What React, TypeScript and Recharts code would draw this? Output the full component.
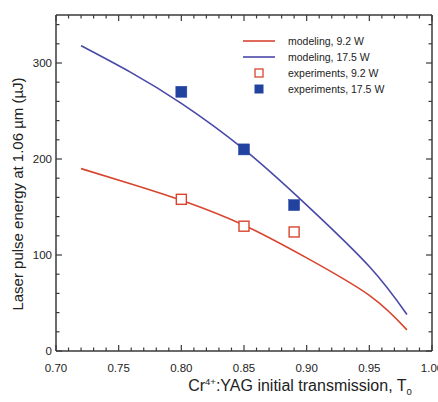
import React from "react";
import {
  ComposedChart,
  Line,
  Scatter,
  XAxis,
  YAxis,
  Legend,
} from "recharts";

// ---- data ----
const modelX = [0.72, 0.76, 0.8, 0.85, 0.9, 0.95, 0.98];
const model92 = [190, 174, 157, 131, 97, 58, 22];
const model175 = [318, 290, 258, 210, 152, 88, 38];

const expX = [0.8, 0.85, 0.89];
const exp92 = [158, 130, 124];
const exp175 = [270, 210, 152];

const xTickValues = Array.from({ length: 31 }, (_, i) => Math.round((0.7 + i * 0.01) * 100) / 100);
const yTickValues = Array.from({ length: 18 }, (_, i) => i * 20);

const legendItems = [
  { label: "modeling, 9.2 W", kind: "line", color: "#d8452f" },
  { label: "modeling, 17.5 W", kind: "line", color: "#4848a8" },
  { label: "experiments, 9.2 W", kind: "open", color: "#d8452f" },
  { label: "experiments, 17.5 W", kind: "filled", color: "#2242a0" },
];

const modelData = modelX.map((x, i) => ({ x, m92: model92[i], m175: model175[i] }));
const exp92Data = expX.map((x, i) => ({ x, y: exp92[i] }));
const exp175Data = expX.map((x, i) => ({ x, y: exp175[i] }));

const RED = "#d8452f";
const BLUE = "#4848a8";
const BLUE_SQ = "#2242a0";
const FRAME = "#3a3a3a";
const TEXT = "#222";
const FONT = "'Liberation Sans', Arial, sans-serif";

const isMajorX = (v: number) => Math.round(v * 100) % 5 === 0;
const isMajorY = (v: number) => Math.round(v) % 100 === 0;

const fmtX = (v: number) => v.toFixed(2);

const BottomTick = (props: any) => {
  const { x, y, payload } = props;
  const v = payload.value;
  const major = isMajorX(v);
  return (
    <g>
      <line x1={x} x2={x} y1={y} y2={y - (major ? 6 : 3.5)} stroke={FRAME} strokeWidth={1.2} />
      {major && (
        <text x={x} y={y + 21} textAnchor="middle" fontSize={11.5} fill={TEXT} fontFamily={FONT}>
          {fmtX(v)}
        </text>
      )}
    </g>
  );
};

const TopTick = (props: any) => {
  const { x, y, payload } = props;
  const major = isMajorX(payload.value);
  return <line x1={x} x2={x} y1={y} y2={y + (major ? 6 : 3.5)} stroke={FRAME} strokeWidth={1.2} />;
};

const LeftTick = (props: any) => {
  const { x, y, payload } = props;
  const v = payload.value;
  const major = isMajorY(v);
  return (
    <g>
      <line x1={x} x2={x + (major ? 6 : 3.5)} y1={y} y2={y} stroke={FRAME} strokeWidth={1.2} />
      {major && (
        <text x={x - 4} y={y + 4} textAnchor="end" fontSize={11.5} fill={TEXT} fontFamily={FONT}>
          {v}
        </text>
      )}
    </g>
  );
};

const RightTick = (props: any) => {
  const { x, y, payload } = props;
  const major = isMajorY(payload.value);
  return <line x1={x} x2={x - (major ? 6 : 3.5)} y1={y} y2={y} stroke={FRAME} strokeWidth={1.2} />;
};

const OpenSquare = (props: any) => {
  const { cx, cy } = props;
  return <rect x={cx - 5} y={cy - 5} width={10} height={10} fill="#fff" stroke={RED} strokeWidth={1.4} />;
};
const FilledSquare = (props: any) => {
  const { cx, cy } = props;
  return <rect x={cx - 5.5} y={cy - 5.5} width={11} height={11} fill={BLUE_SQ} stroke={BLUE_SQ} strokeWidth={0.5} />;
};

const LegendContent = () => (
  <div style={{ fontFamily: FONT, fontSize: 10.5, color: TEXT }}>
    {legendItems.map((it) => (
      <div key={it.label} style={{ display: "flex", alignItems: "center", height: 16 }}>
        <svg width={45} height={16} style={{ display: "block" }}>
          {it.kind === "line" && <line x1={0} x2={32} y1={8} y2={8} stroke={it.color} strokeWidth={1.6} />}
          {it.kind === "open" && <rect x={12} y={4} width={8} height={8} fill="#fff" stroke={it.color} strokeWidth={1.3} />}
          {it.kind === "filled" && <rect x={11.5} y={3.5} width={9} height={9} fill={it.color} />}
        </svg>
        <span>{it.label}</span>
      </div>
    ))}
  </div>
);

export default function App() {
  return (
    <div style={{ position: "absolute", left: 0, top: 0, width: 438, height: 402, background: "#fff" }}>
      <ComposedChart
        width={438}
        height={402}
        data={modelData}
        margin={{ top: 14, right: 5, bottom: 0, left: 0 }}
      >
        <XAxis
          dataKey="x"
          type="number"
          domain={[0.7, 1.0]}
          ticks={xTickValues}
          interval={0}
          height={51}
          tickSize={0}
          tickMargin={0}
          tickLine={false}
          axisLine={{ stroke: FRAME, strokeWidth: 1.5 }}
          tick={<BottomTick />}
          allowDataOverflow
          label={{
            content: () => (
              <text x={300} y={391} textAnchor="middle" fontSize={16} fill={TEXT} fontFamily={FONT}>
                Cr
                <tspan fontSize={9.5} dy={-6}>4+</tspan>
                <tspan dy={6}>:YAG initial transmission, T</tspan>
                <tspan fontSize={9.5} dy={4}>0</tspan>
              </text>
            ),
          }}
        />
        <XAxis
          xAxisId="top"
          orientation="top"
          dataKey="x"
          type="number"
          domain={[0.7, 1.0]}
          ticks={xTickValues}
          interval={0}
          height={1}
          tickSize={0}
          tickMargin={0}
          tickLine={false}
          axisLine={{ stroke: FRAME, strokeWidth: 1.5 }}
          tick={<TopTick />}
          allowDataOverflow
        />
        <YAxis
          type="number"
          domain={[0, 350]}
          ticks={yTickValues}
          interval={0}
          width={56}
          tickSize={0}
          tickMargin={0}
          tickLine={false}
          axisLine={{ stroke: FRAME, strokeWidth: 1.5 }}
          tick={<LeftTick />}
          allowDataOverflow
          label={{
            content: () => (
              <text
                x={19}
                y={194}
                textAnchor="middle"
                fontSize={15}
                fill={TEXT}
                fontFamily={FONT}
                transform="rotate(-90 19 194)"
                dominantBaseline="middle"
              >
                Laser pulse energy at 1.06 µm (µJ)
              </text>
            ),
          }}
        />
        <YAxis
          yAxisId="right"
          orientation="right"
          type="number"
          domain={[0, 350]}
          ticks={yTickValues}
          interval={0}
          width={1}
          tickSize={0}
          tickMargin={0}
          tickLine={false}
          axisLine={{ stroke: FRAME, strokeWidth: 1.5 }}
          tick={<RightTick />}
          allowDataOverflow
        />
        <Line
          dataKey="m92"
          type="natural"
          stroke={RED}
          strokeWidth={1.6}
          dot={false}
          isAnimationActive={false}
          name="modeling, 9.2 W"
        />
        <Line
          dataKey="m175"
          type="natural"
          stroke={BLUE}
          strokeWidth={1.6}
          dot={false}
          isAnimationActive={false}
          name="modeling, 17.5 W"
        />
        <Scatter
          data={exp92Data}
          dataKey="y"
          shape={<OpenSquare />}
          isAnimationActive={false}
          name="experiments, 9.2 W"
        />
        <Scatter
          data={exp175Data}
          dataKey="y"
          shape={<FilledSquare />}
          isAnimationActive={false}
          name="experiments, 17.5 W"
        />
        <Legend
          layout="vertical"
          align="center"
          verticalAlign="middle"
          wrapperStyle={{ left: 243, top: 33, width: 190 }}
          content={<LegendContent />}
        />
      </ComposedChart>
    </div>
  );
}
